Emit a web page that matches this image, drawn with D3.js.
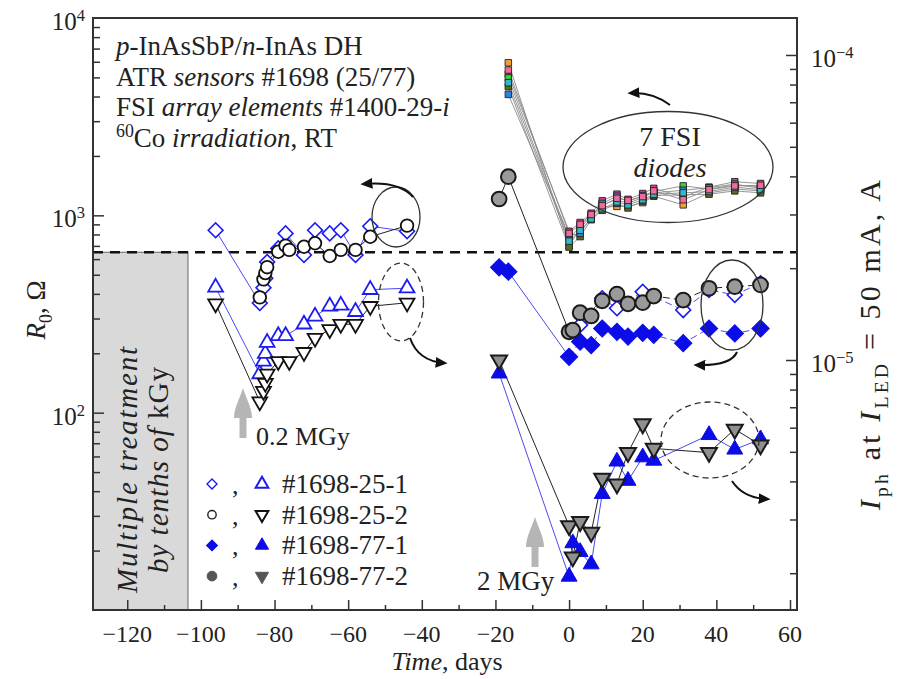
<!DOCTYPE html>
<html>
<head>
<meta charset="utf-8">
<script src="https://d3js.org/d3.v7.min.js"></script>
<style>
  body { margin: 0; background: #fff; }
  text { font-family: "Liberation Serif", "Times New Roman", serif; fill: #222; }
</style>
</head>
<body>
<svg id="chart" width="897" height="679"></svg>
<script>
// ---- data ----
// left panel (before 0.2 MGy), R0 in Ohm
var d25_1_R0 = [-96, -84, -83, -82.5, -82, -79, -77, -72, -69, -65, -62, -58, -54, -44];
var r25_1_R0 = [840, 360, 430, 480, 580, 680, 810, 630, 840, 810, 840, 630, 880, 830];
var d25_2_R0 = [-84, -83, -82.5, -82, -79, -77, -76, -72, -69, -65, -62, -58, -54, -44];
var r25_2_R0 = [384, 474, 510, 546, 654, 702, 668, 693, 722, 622, 668, 668, 779, 887];
// left panel Iph in A
var d25_1_I = [-96, -84, -83, -82.5, -82, -79, -77, -72, -69, -65, -62, -58, -54, -44];
var i25_1_I = [1.73e-5, 9.0e-6, 9.9e-6, 1.05e-5, 1.14e-5, 1.20e-5, 1.20e-5, 1.31e-5, 1.39e-5, 1.50e-5, 1.51e-5, 1.44e-5, 1.70e-5, 1.72e-5];
var d25_2_I = [-96, -84, -83, -82.5, -82, -79, -76, -72, -69, -65, -62, -58, -54, -44];
var i25_2_I = [1.53e-5, 7.3e-6, 7.9e-6, 8.4e-6, 9.0e-6, 9.9e-6, 9.9e-6, 1.06e-5, 1.18e-5, 1.26e-5, 1.31e-5, 1.31e-5, 1.50e-5, 1.54e-5];

// right panel (2 MGy), R0
var d77_1_R0 = [-19, -16.5, 0, 3, 6, 9, 13, 16, 20, 23, 31, 38, 45, 52];
var r77_1_R0 = [545, 518, 192, 229, 220, 267, 257, 243, 254, 248, 225, 267, 252, 267];
var d25_1_R0b = [0, 3, 9, 13, 20, 31, 38, 45, 52];
var r25_1_R0b = [257, 278, 380, 338, 410, 331, 419, 395, 453];
var d77_2_R0 = [-19, -16.5, 0, 1, 3, 6, 9, 13, 16, 20, 23, 31, 38, 45, 52];
var r77_2_R0 = [1210, 1570, 257, 262, 321, 309, 369, 399, 356, 361, 390, 372, 427, 435, 444];
// right panel Iph
var d77_1_I = [-19, 0, 1, 3, 6, 9, 13, 16, 20, 23, 38, 45, 52];
var i77_1_I = [9.04e-6, 1.95e-6, 2.51e-6, 2.35e-6, 2.14e-6, 3.64e-6, 4.65e-6, 4.02e-6, 4.80e-6, 4.68e-6, 5.68e-6, 5.09e-6, 5.50e-6];
var d77_2_I = [-19, 0, 1, 3, 6, 9, 13, 16, 20, 23, 38, 45, 52];
var i77_2_I = [1.0e-5, 2.86e-6, 2.26e-6, 2.95e-6, 2.72e-6, 4.09e-6, 3.92e-6, 4.97e-6, 6.17e-6, 5.13e-6, 4.97e-6, 5.93e-6, 5.26e-6];

// 7 FSI diodes, R0
var fsiDays = [-16.5, 0, 3, 6, 9, 13, 16, 20, 23, 31, 38, 45, 52];
var fsi1 = [5930, 700, 860, 990, 1100, 1110, 1110, 1160, 1250, 1130, 1300, 1360, 1330];
var fsi2 = [5190, 830, 920, 1025, 1185, 1280, 1205, 1290, 1370, 1240, 1390, 1480, 1450];
var fsi3 = [4970, 760, 880, 1000, 1130, 1200, 1150, 1230, 1320, 1410, 1360, 1420, 1400];
var fsi4 = [4490, 690, 780, 950, 1060, 1150, 1090, 1180, 1260, 1270, 1280, 1330, 1300];
var fsi5 = [4100, 790, 810, 975, 1150, 1250, 1170, 1260, 1300, 1340, 1380, 1440, 1370];
var fsi6 = [4700, 740, 840, 960, 1080, 1170, 1130, 1200, 1280, 1300, 1320, 1390, 1350];
var fsi7 = [5450, 810, 900, 1010, 1120, 1220, 1190, 1245, 1330, 1200, 1350, 1410, 1420];
var fsiColors = ["#f39c34", "#e63b8f", "#3ccf3c", "#5b6b1c", "#2e84dc", "#34b9c8", "#f06a9a"];

// axes
var xMajor = [-120, -100, -80, -60, -40, -20, 0, 20, 40, 60];
var xMinor = [-110, -90, -70, -50, -30, -10, 10, 30, 50];
var xLabels = ["\u2212120", "\u2212100", "\u221280", "\u221260", "\u221240", "\u221220", "0", "20", "40", "60"];
var leftMajor = [100, 1000];
var leftMinor = [20, 30, 40, 50, 60, 70, 80, 90, 200, 300, 400, 500, 600, 700, 800, 900, 2000, 3000, 4000, 5000, 6000, 7000, 8000, 9000];
var leftLabelVals = [100, 1000, 10000];
var leftLabelExp = ["2", "3", "4"];
var rightMajor = [1e-5, 1e-4];
var rightMinor = [2e-6, 3e-6, 4e-6, 5e-6, 6e-6, 7e-6, 8e-6, 9e-6, 2e-5, 3e-5, 4e-5, 5e-5, 6e-5, 7e-5, 8e-5, 9e-5];
var rightLabelExp = ["\u22125", "\u22124"];
var thresholdR0 = 650;     // dashed line
var treatEnd = -103.5;     // end of grey "multiple treatment" band

var legendLabels = ["#1698-25-1", "#1698-25-2", "#1698-77-1", "#1698-77-2"];

// ---- layout ----
var L = 93, R = 797, T = 18, B = 610;
var svg = d3.select("#chart");

var x = d3.scaleLinear().domain([-129.3, 61.9]).range([L, R]);
var yL = d3.scaleLog().domain([10, 1e4]).range([B, T]);
var yR = d3.scaleLog().domain([1.515e-6, 1.322e-4]).range([B, T]);

var defs = svg.append("defs");
defs.append("marker").attr("id", "ah")
  .attr("viewBox", "0 0 10 10").attr("refX", 7).attr("refY", 5)
  .attr("markerWidth", 6).attr("markerHeight", 6).attr("orient", "auto")
  .append("path").attr("d", "M0,0.5 L10,5 L0,9.5 z").attr("fill", "#111");

// grey treatment band
svg.append("rect")
  .attr("x", L).attr("y", yL(thresholdR0))
  .attr("width", x(treatEnd) - L).attr("height", B - yL(thresholdR0))
  .attr("fill", "#d9d9d9").attr("stroke", "#666").attr("stroke-width", 1);

// rich text helper (italic / sup / sub parts)
function rich(parent, px, py, parts, size, anchor, rot, len) {
  var t = parent.append("text").attr("x", px).attr("y", py)
    .attr("font-size", size).attr("text-anchor", anchor || "start");
  if (rot) t.attr("transform", "rotate(-90," + px + "," + py + ")");
  if (len) t.attr("textLength", len).attr("lengthAdjust", "spacing");
  var shift = 0;
  parts.forEach(function(p) {
    var s = typeof p === "string" ? p : p[0];
    var st = typeof p === "string" ? "" : p[1];
    var ts = t.append("tspan").text(s);
    var target = 0;
    if (st.indexOf("sup") >= 0) { target = -size * 0.36; ts.attr("font-size", size * 0.66); }
    if (st.indexOf("sub") >= 0) { target = size * 0.26; ts.attr("font-size", size * 0.66); }
    if (st.indexOf("it") >= 0) ts.attr("font-style", "italic");
    if (target !== shift) { ts.attr("dy", target - shift); shift = target; }
  });
  return t;
}

// treatment text
rich(svg, 137, 470, [["Multiple treatment", "it"]], 29, "middle", true, 246);
rich(svg, 168, 470, [["by tenths of ", "it"], "kGy"], 29, "middle", true, 206);

// threshold dashed line
svg.append("line")
  .attr("x1", L).attr("x2", R).attr("y1", yL(thresholdR0)).attr("y2", yL(thresholdR0))
  .attr("stroke", "#111").attr("stroke-width", 2.4).attr("stroke-dasharray", "10,7");

// ---- series ----
function zip(days, vals) { return days.map(function(d, i) { return [d, vals[i]]; }); }

function series(days, vals, ys, o) {
  var pts = zip(days, vals);
  var line = d3.line().x(function(d) { return x(d[0]); }).y(function(d) { return ys(d[1]); });
  if (o.split != null) {
    svg.append("path").attr("d", line(pts.slice(0, o.split + 1)))
      .attr("fill", "none").attr("stroke", o.lc).attr("stroke-width", o.lw || 1);
    svg.append("path").attr("d", line(pts.slice(o.split)))
      .attr("fill", "none").attr("stroke", o.lc).attr("stroke-width", o.lw || 1)
      .attr("stroke-dasharray", o.dash || null);
  } else {
    svg.append("path").attr("d", line(pts))
      .attr("fill", "none").attr("stroke", o.lc).attr("stroke-width", o.lw || 1)
      .attr("stroke-dasharray", o.dash || null);
  }
  return pts;
}

function marks(pts, ys, o) {
  var sym = d3.symbol().type(o.type).size(o.size);
  svg.append("g").selectAll("path").data(pts).enter().append("path")
    .attr("d", sym)
    .attr("transform", function(d) { return "translate(" + x(d[0]) + "," + ys(d[1]) + ") rotate(" + (o.rot || 0) + ")"; })
    .attr("fill", o.fill).attr("stroke", o.stroke).attr("stroke-width", o.sw);
}

var BLUE = "#1c1cf2", BLUE_L = "#4a4af5";

// FSI diodes (behind)
var fsiAll = [fsi1, fsi2, fsi3, fsi4, fsi5, fsi6, fsi7];
fsiAll.forEach(function(v) { series(fsiDays, v, yL, { lc: "#8a8a8a", lw: 0.9 }); });
fsiAll.forEach(function(v, k) {
  marks(zip(fsiDays, v), yL, { type: d3.symbolSquare, size: 42, fill: fsiColors[k], stroke: "#222", sw: 0.9 });
});

// left panel lines
var p1 = series(d25_1_R0, r25_1_R0, yL, { lc: BLUE_L });
var p2 = series(d25_2_R0, r25_2_R0, yL, { lc: "#222" });
var p3 = series(d25_1_I, i25_1_I, yR, { lc: BLUE_L });
var p4 = series(d25_2_I, i25_2_I, yR, { lc: "#222" });
// right panel lines
var p5 = series(d77_1_R0, r77_1_R0, yL, { lc: BLUE_L, split: 2, dash: "7,4" });
var p6 = series(d25_1_R0b, r25_1_R0b, yL, { lc: BLUE_L, dash: "7,4" });
var p7 = series(d77_2_R0, r77_2_R0, yL, { lc: "#222", split: 2, dash: "7,4" });
var p8 = series(d77_1_I, i77_1_I, yR, { lc: BLUE_L });
var p9 = series(d77_2_I, i77_2_I, yR, { lc: "#222" });

// markers
marks(p3, yR, { type: d3.symbolTriangle, size: 95, fill: "#fff", stroke: BLUE, sw: 1.8 });
marks(p4, yR, { type: d3.symbolTriangle, size: 95, rot: 180, fill: "#fff", stroke: "#111", sw: 1.8 });
marks(p1, yL, { type: d3.symbolSquare, size: 110, rot: 45, fill: "#fff", stroke: BLUE, sw: 1.6 });
marks(p2, yL, { type: d3.symbolCircle, size: 125, fill: "#fff", stroke: "#111", sw: 1.8 });
marks(p8, yR, { type: d3.symbolTriangle, size: 110, fill: "#0c0ce8", stroke: "#0c0ce8", sw: 1 });
marks(p9, yR, { type: d3.symbolTriangle, size: 110, rot: 180, fill: "#8f8f8f", stroke: "#1a1a1a", sw: 2 });
marks(p6, yL, { type: d3.symbolSquare, size: 110, rot: 45, fill: "#fff", stroke: BLUE, sw: 1.6 });
marks(p5, yL, { type: d3.symbolSquare, size: 150, rot: 45, fill: "#0c0ce8", stroke: "#0c0ce8", sw: 1 });
marks(p7, yL, { type: d3.symbolCircle, size: 170, fill: "#9a9a9a", stroke: "#1a1a1a", sw: 2 });

// ---- annotations: ellipses + curved arrows ----
function ell(cx, cy, rx, ry, dashed) {
  svg.append("ellipse").attr("cx", cx).attr("cy", cy).attr("rx", rx).attr("ry", ry)
    .attr("fill", "none").attr("stroke", "#333").attr("stroke-width", 1.3)
    .attr("stroke-dasharray", dashed ? "6,4" : null);
}
function arrow(d) {
  svg.append("path").attr("d", d).attr("fill", "none")
    .attr("stroke", "#111").attr("stroke-width", 2).attr("marker-end", "url(#ah)");
}
ell(396, 217, 24, 30, false);
ell(401, 302, 22.5, 39, true);
ell(668, 167, 105, 55.5, false);
ell(732, 305, 31, 45, false);
ell(710, 440, 49, 38, true);
arrow("M413,197 Q399,181 364,184");
arrow("M410,338 Q418,361 444,363");
arrow("M670,105 Q653,92 631,93");
arrow("M737,352 Q731,366 697,365");
arrow("M732,481 Q743,498 767,499");

rich(svg, 670, 146, ["7 FSI"], 28, "middle");
rich(svg, 670, 177, [["diodes", "it"]], 28, "middle");

// grey dose arrows
function doseArrow(tx, ty) {
  svg.append("path")
    .attr("d", "M0,0 C-3,10 -9,20 -9,30 L-3.5,30 L-3.5,50 L3.5,50 L3.5,30 L9,30 C9,20 3,10 0,0 Z")
    .attr("transform", "translate(" + tx + "," + ty + ")")
    .attr("fill", "#b5b5b5");
}
doseArrow(243, 388);
doseArrow(535, 517);
rich(svg, 256, 445, ["0.2 MGy"], 26);
rich(svg, 477, 590, ["2 MGy"], 27);

// ---- frame and ticks ----
svg.append("rect").attr("x", L).attr("y", T).attr("width", R - L).attr("height", B - T)
  .attr("fill", "none").attr("stroke", "#333").attr("stroke-width", 2);

function tickGroup(axis, tr) {
  var g = svg.append("g").attr("transform", tr).call(axis);
  g.select(".domain").remove();
  g.selectAll("line").attr("stroke", "#333").attr("stroke-width", 1.5);
}
tickGroup(d3.axisRight(yL).tickValues(leftMinor).tickSize(7).tickFormat(""), "translate(" + L + ",0)");
tickGroup(d3.axisRight(yL).tickValues(leftMajor).tickSize(11).tickFormat(""), "translate(" + L + ",0)");
tickGroup(d3.axisLeft(yR).tickValues(rightMinor).tickSize(7).tickFormat(""), "translate(" + R + ",0)");
tickGroup(d3.axisLeft(yR).tickValues(rightMajor).tickSize(11).tickFormat(""), "translate(" + R + ",0)");
tickGroup(d3.axisTop(x).tickValues(xMinor).tickSize(5).tickFormat(""), "translate(0," + B + ")");
tickGroup(d3.axisTop(x).tickValues(xMajor).tickSize(10).tickFormat(""), "translate(0," + B + ")");

// tick labels
xMajor.forEach(function(v, i) { rich(svg, x(v), 642, [xLabels[i]], 24, "middle"); });
leftLabelVals.forEach(function(v, i) { rich(svg, 85, yL(v) + 12, ["10", [leftLabelExp[i], "sup"]], 25, "end"); });
rightMajor.forEach(function(v, i) { rich(svg, 811, yR(v) + 12, ["10", [rightLabelExp[i], "sup"]], 25, "start"); });

// axis titles
rich(svg, 447, 670, [["Time", "it"], ", days"], 26, "middle");
rich(svg, 45, 310, [["R", "it"], ["0", "sub"], ", \u03a9"], 27, "middle", true);
rich(svg, 880, 345, [["I", "it"], ["ph", "sub"], " at ", ["I", "it"], ["LED", "sub"], " = 50 mA, A"], 30, "middle", true, 330);

// header text
var hdr = [
  [["p", "it"], "-InAsSbP/", ["n", "it"], "-InAs DH"],
  ["ATR ", ["sensors", "it"], " #1698 (25/77)"],
  ["FSI ", ["array elements", "it"], " #1400-29-", ["i", "it"]],
  [["60", "sup"], "Co ", ["irradiation", "it"], ", RT"]
];
hdr.forEach(function(parts, i) { rich(svg, 116, 55 + i * 30.5, parts, 27); });

// legend
var legR0 = [
  { type: d3.symbolSquare, size: 50, rot: 45, fill: "#fff", stroke: BLUE, sw: 1.4 },
  { type: d3.symbolCircle, size: 55, fill: "#fff", stroke: "#222", sw: 1.4 },
  { type: d3.symbolSquare, size: 60, rot: 45, fill: "#0c0ce8", stroke: "#0c0ce8", sw: 1 },
  { type: d3.symbolCircle, size: 75, fill: "#555", stroke: "#555", sw: 1 }
];
var legI = [
  { type: d3.symbolTriangle, size: 70, fill: "#fff", stroke: BLUE, sw: 2 },
  { type: d3.symbolTriangle, size: 70, rot: 180, fill: "#fff", stroke: "#111", sw: 2 },
  { type: d3.symbolTriangle, size: 75, fill: "#0c0ce8", stroke: "#0c0ce8", sw: 1 },
  { type: d3.symbolTriangle, size: 75, rot: 180, fill: "#555", stroke: "#555", sw: 1 }
];
legendLabels.forEach(function(lab, i) {
  var cy = 484 + i * 30.7;
  [[212, legR0[i]], [262, legI[i]]].forEach(function(s) {
    var o = s[1];
    svg.append("path").attr("d", d3.symbol().type(o.type).size(o.size))
      .attr("transform", "translate(" + s[0] + "," + cy + ") rotate(" + (o.rot || 0) + ")")
      .attr("fill", o.fill).attr("stroke", o.stroke).attr("stroke-width", o.sw);
  });
  rich(svg, 232, cy + 10, [","], 26);
  rich(svg, 282, cy + 9, [lab], 27);
});
</script>
</body>
</html>
